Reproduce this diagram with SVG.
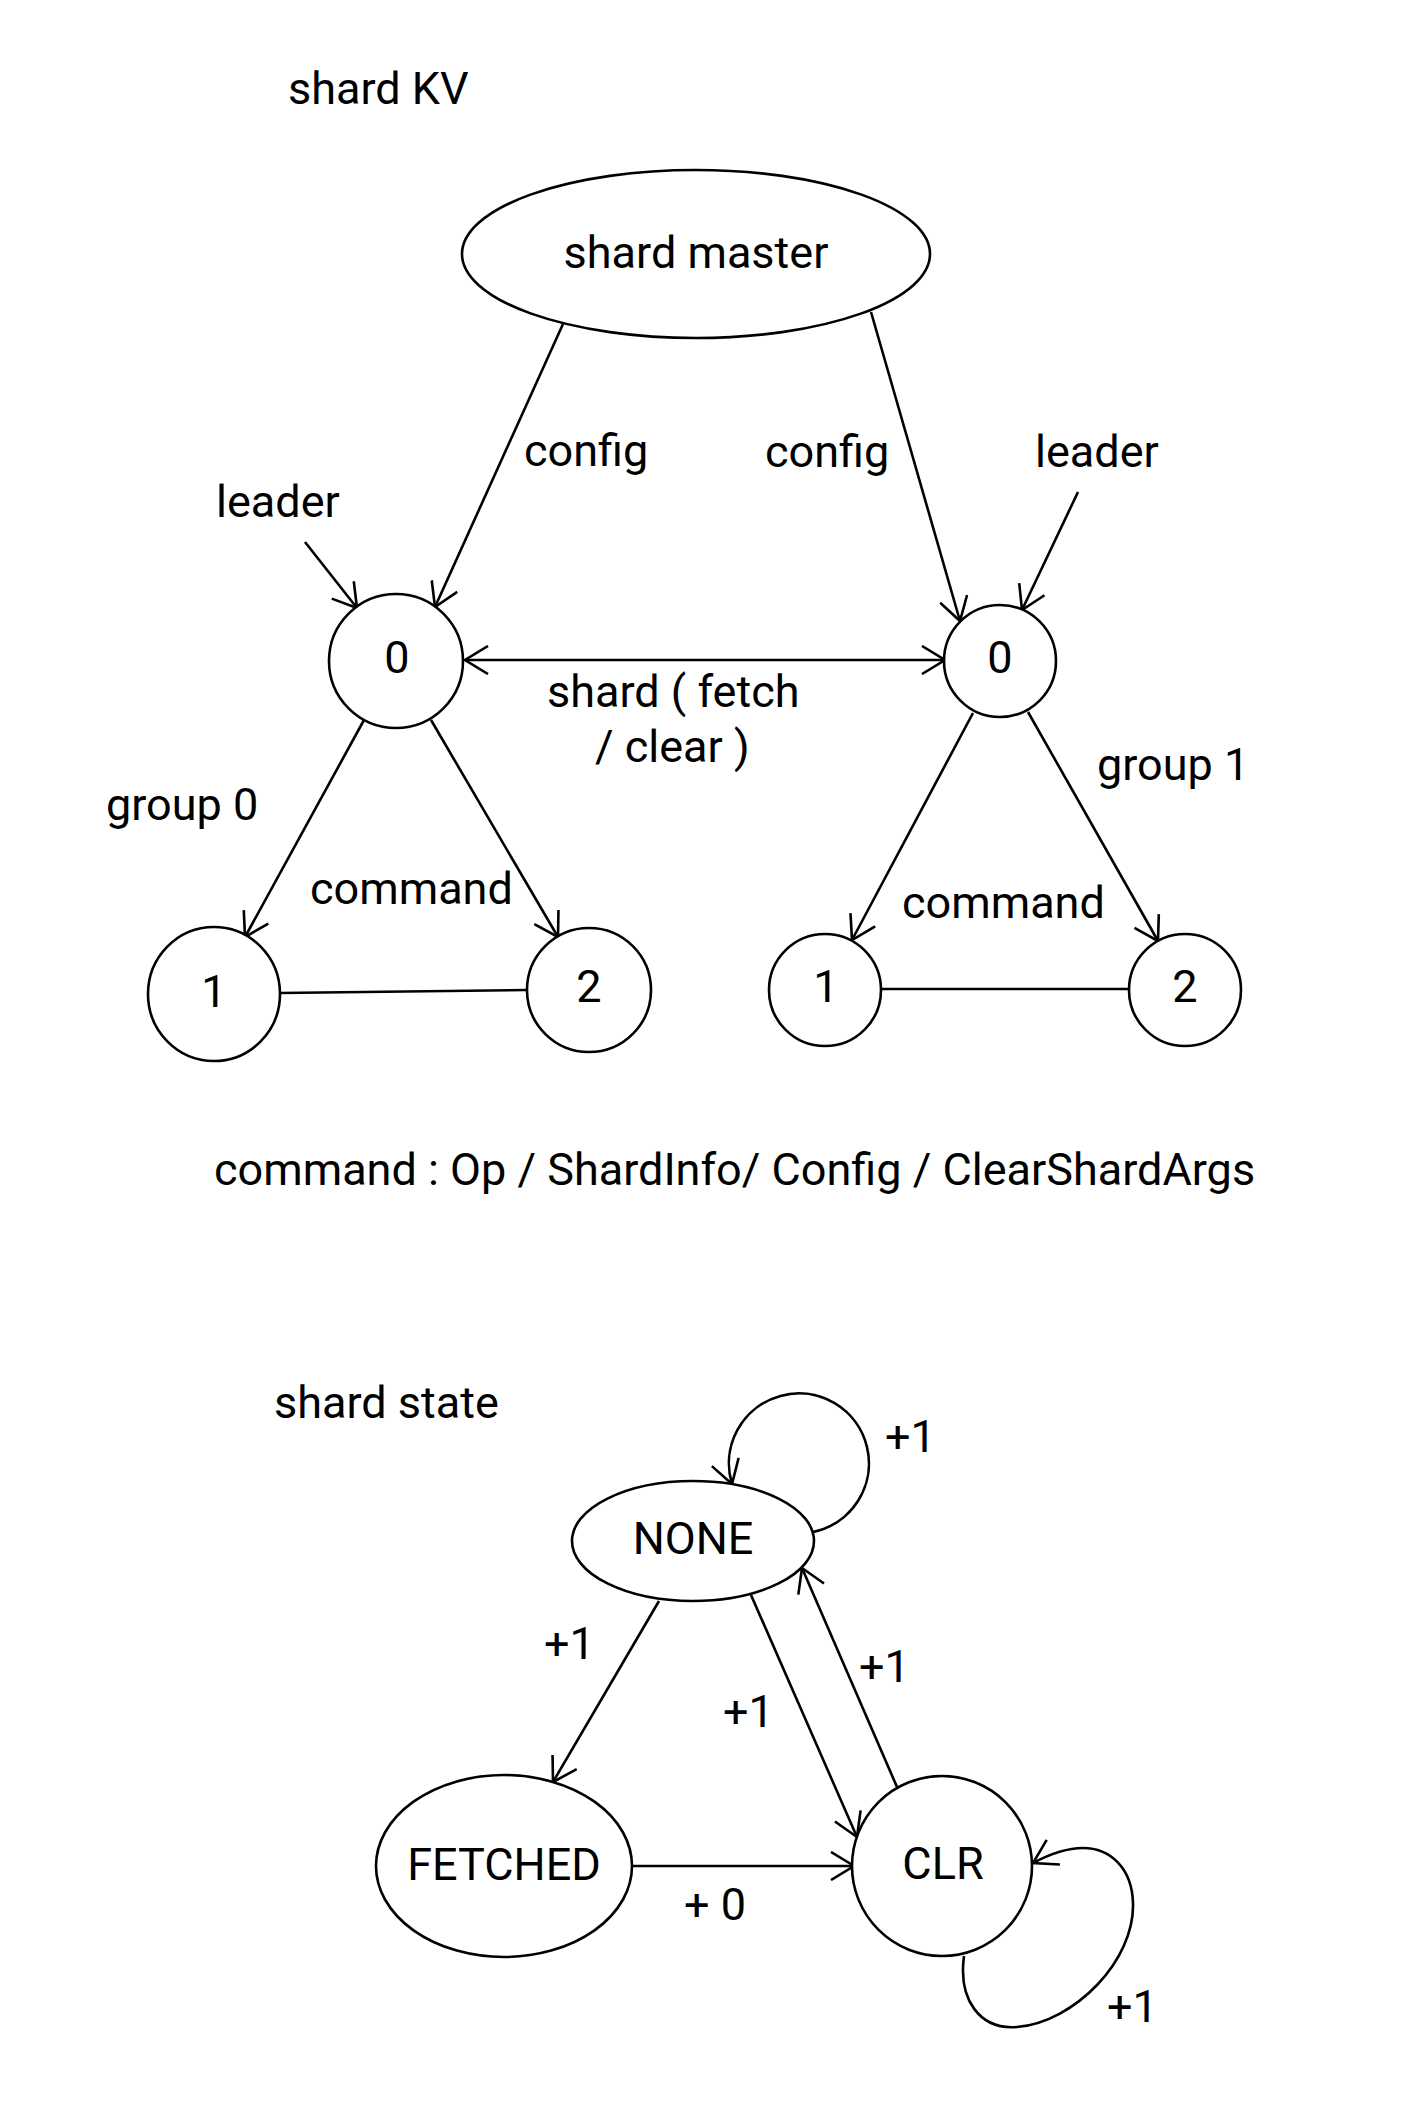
<svg xmlns="http://www.w3.org/2000/svg" width="1420" height="2109" viewBox="0 0 1420 2109">
<style>
.n{fill:#fff;stroke:#000;stroke-width:2.6}
.c{fill:none;stroke:#000;stroke-width:2.6}
.a{marker-end:url(#arr)}
text{font-family:Roboto,"Noto Sans",sans-serif;font-size:45px;fill:#000}
.m{text-anchor:middle}
</style>
<defs>
<marker id="arr" viewBox="0 0 30 30" refX="26" refY="15" markerWidth="30" markerHeight="30" markerUnits="userSpaceOnUse" orient="auto-start-reverse">
<path d="M3 1 L26 15 L3 29" fill="none" stroke="#000" stroke-width="2.6"/>
</marker>
</defs>
<rect width="1420" height="2109" fill="#fff"/>
<g id="labels">
<text x="288" y="104">shard KV</text>
<text x="524" y="466">config</text>
<text x="765" y="467">config</text>
<text x="216" y="517">leader</text>
<text x="1035" y="467">leader</text>
<text x="547" y="707">shard ( fetch</text>
<text x="595" y="762">/ clear )</text>
<text x="106" y="820">group 0</text>
<text x="310" y="904">command</text>
<text x="1097" y="780">group 1</text>
<text x="902" y="918">command</text>
<text x="214" y="1185">command : Op / ShardInfo/ Config / ClearShardArgs</text>
<text x="274" y="1418">shard state</text>
<text x="885" y="1452">+1</text>
<text x="544" y="1659">+1</text>
<text x="723" y="1727">+1</text>
<text x="859" y="1682">+1</text>
<text x="684" y="1920">+ 0</text>
<text x="1107" y="2022">+1</text>
</g>
<g id="connectors">
<path class="c a" d="M563 324 L435 607"/>
<path class="c a" d="M871 312 L960 621"/>
<path class="c a" d="M305 542 L357 608"/>
<path class="c a" d="M1078 492 L1022 610"/>
<path class="c a" d="M465 660 L945 660" marker-start="url(#arr)"/>
<path class="c a" d="M364 720 L245 937"/>
<path class="c a" d="M431 720 L558 937"/>
<path class="c" d="M280 993 L527 990"/>
<path class="c a" d="M973 713 L852 940"/>
<path class="c a" d="M1028 712 L1158 941"/>
<path class="c" d="M882 989 L1129 989"/>
<path class="c a" d="M813 1532 A70 70 0 1 0 732 1484"/>
<path class="c a" d="M659 1601 L553 1782"/>
<path class="c a" d="M751 1595 L857 1837"/>
<path class="c a" d="M897 1787 L802 1568"/>
<path class="c a" d="M633 1866 L854 1866"/>
<path class="c a" d="M964 1956 C958 2000 980 2030 1017 2027 C1075 2022 1135 1960 1133 1903 C1132 1868 1110 1848 1083 1848 C1065 1848 1048 1855 1033 1863"/>
</g>
<g id="master"><ellipse class="n" cx="696" cy="254" rx="234" ry="84"/><text class="m" x="696" y="268">shard master</text></g>
<g id="g0n0"><circle class="n" cx="396" cy="661" r="67"/><text class="m" x="397" y="673">0</text></g>
<g id="g1n0"><circle class="n" cx="1000" cy="661" r="56"/><text class="m" x="1000" y="673">0</text></g>
<g id="g0n1"><ellipse class="n" cx="214" cy="994" rx="66" ry="67"/><text class="m" x="214" y="1007">1</text></g>
<g id="g0n2"><circle class="n" cx="589" cy="990" r="62"/><text class="m" x="589" y="1002">2</text></g>
<g id="g1n1"><circle class="n" cx="825" cy="990" r="56"/><text class="m" x="826" y="1002">1</text></g>
<g id="g1n2"><circle class="n" cx="1185" cy="990" r="56"/><text class="m" x="1185" y="1002">2</text></g>
<g id="none"><ellipse class="n" cx="693" cy="1541" rx="121" ry="60"/><text class="m" x="693" y="1554">NONE</text></g>
<g id="fetched"><ellipse class="n" cx="504" cy="1866" rx="128" ry="91"/><text class="m" x="504" y="1880">FETCHED</text></g>
<g id="clr"><circle class="n" cx="942" cy="1866" r="90"/><text class="m" x="943" y="1879">CLR</text></g>
</svg>
